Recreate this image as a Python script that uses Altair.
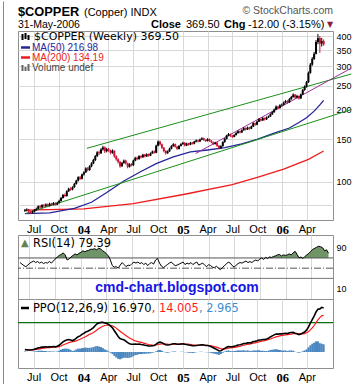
import altair as alt
import pandas as pd

# ---------------- data ----------------
week_start = "2003-05-30"
first_open = 76.0
closes = [
    76.5, 76.8, 75.5, 74.8, 75.4, 76.6, 77.5, 79.4, 78.6, 80.2,
    79.5, 80.8, 79.8, 81.3, 80.6, 81.9, 80.7, 82.1, 83.6, 85.9,
    88.4, 87.5, 91.6, 93.8, 93.0, 95.2, 98.2, 101.3, 104.6, 103.1,
    107.4, 109.6, 113.8, 112.0, 116.1, 119.3, 123.2, 127.9, 132.6, 131.5,
    136.2, 138.9, 134.0, 136.5, 135.0, 132.0, 134.5, 127.6, 124.1, 121.0,
    116.2, 119.8, 122.5, 119.4, 115.6, 118.3, 117.2, 122.6, 125.9, 124.3,
    127.8, 126.4, 129.6, 127.5, 130.2, 128.4, 131.3, 133.6, 132.0, 141.2,
    146.8, 143.0, 138.5, 134.2, 131.5, 133.8, 137.2, 140.6, 143.1, 139.8,
    137.0, 140.9, 143.3, 145.1, 141.5, 144.0, 142.6, 145.2, 143.9, 146.7,
    148.4, 147.0, 149.6, 151.5, 149.1, 147.6, 150.2, 147.9, 145.8, 143.5,
    145.2, 141.0, 137.8, 140.6, 146.0, 150.5, 155.2, 157.6, 154.8, 153.6,
    156.3, 159.2, 161.8, 160.1, 163.5, 166.9, 164.7, 167.8, 166.0, 169.4,
    174.8, 172.3, 177.5, 181.6, 179.4, 183.5, 181.2, 184.7, 186.3, 190.1,
    194.0, 198.9, 204.6, 201.8, 207.1, 208.3, 212.4, 215.5, 213.2, 219.6,
    224.1, 229.3, 223.0, 226.4, 221.2, 229.8, 239.5, 247.2, 258.0, 282.0,
    305.0, 322.0, 338.0, 378.0, 392.0, 372.6, 381.5, 369.5]
highs = [
    77.4, 77.9, 77.5, 76.3, 76.2, 77.3, 78.4, 80.1, 80.3, 81.0,
    81.1, 81.6, 81.5, 82.2, 82.0, 82.7, 82.5, 82.9, 84.5, 86.8,
    89.3, 89.6, 92.4, 94.7, 95.1, 96.0, 99.1, 102.2, 105.6, 105.9,
    108.3, 110.8, 115.0, 115.2, 117.3, 120.6, 124.7, 129.2, 134.0, 134.8,
    137.9, 141.0, 140.2, 138.4, 138.1, 136.0, 136.4, 135.2, 128.9, 125.3,
    122.0, 121.0, 123.8, 123.6, 120.2, 119.5, 119.6, 123.7, 127.0, 127.2,
    128.9, 129.0, 130.7, 130.5, 131.3, 131.0, 132.4, 134.8, 134.9, 142.5,
    148.3, 148.0, 144.1, 139.4, 135.3, 135.0, 138.5, 141.9, 144.6, 144.0,
    140.9, 142.0, 144.5, 146.5, 146.0, 145.2, 145.0, 146.3, 146.4, 147.9,
    149.8, 149.6, 150.9, 153.0, 152.4, 150.0, 151.5, 151.0, 148.8, 146.7,
    146.5, 146.0, 142.0, 141.8, 147.3, 151.8, 156.6, 159.2, 158.5, 156.1,
    157.6, 160.6, 163.3, 163.0, 164.9, 168.4, 167.8, 169.2, 168.9, 170.9,
    176.3, 175.9, 179.0, 183.3, 183.0, 185.2, 184.6, 186.4, 188.1, 192.0,
    196.1, 200.9, 207.0, 206.2, 209.3, 210.6, 214.8, 218.0, 217.4, 221.8,
    226.5, 232.0, 230.8, 229.0, 227.5, 231.6, 241.8, 250.3, 261.2, 285.6,
    309.4, 327.5, 344.0, 385.0, 408.0, 400.0, 393.0, 387.0]
lows = [
    75.3, 75.6, 74.6, 73.9, 74.1, 74.9, 76.0, 77.0, 77.8, 78.1,
    78.7, 78.9, 79.0, 79.3, 79.8, 80.0, 79.9, 80.2, 81.6, 83.1,
    85.4, 86.5, 87.0, 90.9, 92.0, 92.4, 94.6, 97.6, 100.5, 102.0,
    102.5, 106.2, 108.9, 110.6, 111.2, 115.0, 118.4, 122.0, 126.8, 129.3,
    130.4, 134.8, 131.6, 132.5, 133.2, 130.1, 130.8, 126.0, 122.4, 119.2,
    114.5, 115.4, 118.9, 118.0, 113.9, 114.7, 116.0, 116.6, 121.8, 123.0,
    123.6, 125.1, 125.8, 126.4, 126.9, 127.2, 127.8, 130.6, 130.9, 131.4,
    140.2, 141.6, 136.9, 132.6, 129.8, 130.6, 133.1, 136.4, 139.8, 138.5,
    135.6, 136.2, 140.1, 142.4, 140.2, 140.6, 141.3, 141.8, 142.7, 143.0,
    145.8, 145.7, 146.2, 148.7, 147.8, 146.2, 146.8, 146.5, 144.4, 142.1,
    142.6, 139.6, 136.2, 136.9, 139.9, 145.3, 149.7, 154.3, 153.2, 152.0,
    152.8, 155.4, 158.3, 158.6, 159.3, 162.6, 163.1, 163.9, 164.3, 165.2,
    168.6, 170.6, 171.4, 176.6, 177.5, 178.6, 179.3, 180.2, 183.6, 185.4,
    189.2, 193.0, 197.8, 199.5, 200.6, 205.4, 207.1, 211.0, 210.6, 212.1,
    218.2, 222.8, 220.4, 221.5, 218.6, 220.0, 228.6, 237.8, 245.1, 256.3,
    279.5, 301.2, 318.6, 336.0, 370.0, 341.0, 362.0, 365.0]
rsi14 = [
    61, 58, 55, 53, 56, 60, 62, 64, 61, 63,
    60, 62, 59, 61, 60, 63, 60, 64, 68, 72,
    75, 77, 80, 76, 66, 68, 72, 75, 78, 76,
    79, 81, 84, 82, 84, 85, 87, 87, 88, 86,
    89, 88, 84, 82, 78, 74, 66, 55, 52, 53,
    50, 56, 61, 57, 53, 56, 55, 59, 62, 60,
    62, 59, 61, 57, 60, 55, 59, 61, 58, 66,
    69, 60, 54, 51, 54, 57, 60, 62, 58, 55,
    56, 58, 60, 62, 57, 60, 58, 61, 57, 60,
    62, 56, 58, 60, 56, 53, 57, 55, 52, 51,
    54, 50, 47, 51, 55, 58, 62, 60, 55, 52,
    56, 59, 61, 60, 62, 64, 61, 63, 61, 64,
    66, 64, 68, 70, 67, 71, 69, 72, 71, 73,
    74, 76, 77, 74, 76, 75, 76, 78, 76, 80,
    83, 77, 70, 72, 69, 73, 76, 79, 83, 87,
    89, 91, 93, 92, 90, 84, 86, 79.39]
ppo_line = [
    1.0, 0.9, 0.8, 0.8, 0.9, 1.1, 1.3, 1.6, 1.7, 1.9,
    1.9, 2.0, 1.9, 2.0, 2.0, 2.1, 2.0, 2.2, 2.6, 3.2,
    3.9, 4.3, 4.6, 4.8, 4.6, 4.4, 4.7, 5.3, 5.9, 6.2,
    6.8, 7.2, 7.7, 8.0, 8.4, 8.8, 9.4, 10.2, 10.9, 11.2,
    11.4, 11.4, 11.2, 11.0, 10.6, 10.0, 9.3, 8.2, 7.1, 6.0,
    5.2, 4.9, 4.7, 4.2, 3.6, 3.2, 3.0, 3.0, 3.1, 3.0,
    3.1, 2.9, 2.8, 2.6, 2.5, 2.3, 2.3, 2.4, 2.5, 3.0,
    3.6, 3.8, 3.6, 3.2, 2.8, 2.7, 2.8, 3.0, 3.2, 3.2,
    3.0, 3.0, 3.1, 3.2, 3.0, 2.9, 2.7, 2.6, 2.4, 2.4,
    2.5, 2.6, 2.7, 2.8, 2.7, 2.5, 2.5, 2.3, 2.0, 1.6,
    1.3, 0.9, 0.4, 0.5, 0.9, 1.4, 1.8, 2.1, 2.0, 2.0,
    2.2, 2.4, 2.7, 2.8, 3.0, 3.3, 3.3, 3.5, 3.5, 3.6,
    4.0, 4.1, 4.3, 4.6, 4.6, 4.8, 4.8, 5.0, 5.3, 5.8,
    6.2, 6.6, 6.9, 6.9, 7.0, 7.0, 7.1, 7.2, 7.1, 7.4,
    7.5, 7.6, 7.2, 7.0, 6.7, 6.9, 7.3, 7.7, 8.4, 9.6,
    11.1, 12.5, 13.8, 15.4, 16.5, 16.6, 17.2, 16.97]
ppo_signal = [
    0.8, 0.8, 0.8, 0.8, 0.8, 0.9, 1.0, 1.1, 1.2, 1.4,
    1.5, 1.6, 1.7, 1.7, 1.8, 1.9, 1.9, 2.0, 2.1, 2.3,
    2.7, 3.0, 3.3, 3.6, 3.8, 4.0, 4.1, 4.3, 4.6, 4.9,
    5.3, 5.6, 6.0, 6.4, 6.8, 7.1, 7.5, 8.0, 8.6, 9.1,
    9.5, 9.9, 10.2, 10.3, 10.4, 10.3, 10.1, 9.7, 9.2, 8.6,
    8.0, 7.4, 6.9, 6.4, 5.9, 5.4, 5.0, 4.6, 4.3, 4.1,
    3.9, 3.7, 3.5, 3.3, 3.1, 2.9, 2.8, 2.7, 2.6, 2.7,
    2.9, 3.0, 3.1, 3.1, 3.0, 3.0, 2.9, 2.9, 3.0, 3.0,
    3.0, 3.0, 3.0, 3.1, 3.1, 3.0, 3.0, 2.9, 2.8, 2.7,
    2.6, 2.6, 2.6, 2.7, 2.7, 2.6, 2.6, 2.5, 2.4, 2.2,
    2.0, 1.8, 1.5, 1.3, 1.2, 1.2, 1.3, 1.5, 1.6, 1.7,
    1.8, 1.9, 2.1, 2.2, 2.4, 2.6, 2.8, 2.9, 3.0, 3.2,
    3.4, 3.5, 3.7, 3.9, 4.1, 4.3, 4.4, 4.6, 4.8, 5.0,
    5.3, 5.6, 5.8, 6.0, 6.2, 6.4, 6.5, 6.6, 6.7, 6.8,
    6.9, 7.1, 7.1, 7.1, 7.0, 7.0, 7.0, 7.1, 7.4, 7.8,
    8.5, 9.3, 10.2, 11.3, 12.4, 13.2, 14.0, 14.005]

ma50_dates = ["2003-05-30", "2003-08-29", "2003-11-28", "2004-01-30", "2004-03-26",
              "2004-05-28", "2004-07-30", "2004-09-24", "2004-11-26", "2005-01-28",
              "2005-04-01", "2005-06-03", "2005-08-05", "2005-09-30", "2005-12-02",
              "2006-01-27", "2006-03-03", "2006-03-31", "2006-04-28", "2006-05-19", "2006-06-02"]
ma50_values = [74.0, 74.6, 77.8, 82.5, 90.5, 101.0, 110.5, 119.0, 127.0, 133.0,
               135.5, 138.5, 143.5, 150.0, 159.0, 167.0, 176.0, 184.0, 196.0, 208.0, 216.98]
ma200_dates = ["2003-05-30", "2004-01-02", "2004-07-02", "2005-01-07", "2005-07-01",
               "2005-10-07", "2006-01-06", "2006-04-07", "2006-06-02"]
ma200_values = [76.5, 77.5, 81.5, 89.0, 97.5, 105.0, 113.0, 124.0, 134.19]

upper_trend_dates = ["2004-01-13", "2006-09-12"]
upper_trend_values = [137.7, 279.0]
lower_trend_dates = ["2003-06-02", "2006-09-12"]
lower_trend_values = [74.1, 199.0]
purple_trend_dates = ["2005-02-16", "2006-09-12"]
purple_trend_values = [131.0, 295.0]
ppo_level = [11.3]

x_tick_dates = ["2003-07-01", "2003-10-01", "2004-01-01", "2004-04-01", "2004-07-01",
                "2004-10-01", "2005-01-01", "2005-04-01", "2005-07-01", "2005-10-01",
                "2006-01-01", "2006-04-01"]
x_domain = ["2003-05-23", "2006-06-18"]
price_ticks = [80, 100, 150, 200, 250, 300, 350, 400]
price_domain = [69.7, 419.6]
rsi_ticks = [10, 30, 50, 70, 90]
rsi_domain = [-10.4, 115]
ppo_ticks = [0, 5, 10, 15]
ppo_domain = [-6.15, 20.4]

# ---------------- tables ----------------
dates = pd.date_range(week_start, periods=len(closes), freq="7D").strftime("%Y-%m-%d").tolist()
opens = [first_open] + closes[:-1]
weekly = pd.DataFrame({
    "date": dates, "open": opens, "high": highs, "low": lows, "close": closes,
    "dir": ["up" if c >= o else "down" for o, c in zip(opens, closes)],
    "rsi": rsi14, "ppo": ppo_line, "sig": ppo_signal,
})
weekly["hist"] = weekly["ppo"] - weekly["sig"]

def line_df(d, v):
    return pd.DataFrame({"date": d, "value": v})

one = pd.DataFrame({"k": [0]})

# ---------------- styling ----------------
GRID = "#d9d9d9"
BORDER = "#8f8f8f"
RED_C = "#cc1236"
SANS = "Liberation Sans"

def dt(s):
    y, m, d = (int(p) for p in s.split("-"))
    return alt.DateTime(year=y, month=m, date=d, utc=True)

x_scale = alt.Scale(type="utc", domain=[dt(x_domain[0]), dt(x_domain[1])])
is_year = "utcmonth(datum.value) == 0"

def x_enc(show):
    return alt.X("date:T", scale=x_scale, title=None, axis=alt.Axis(
        values=[dt(s) for s in x_tick_dates], grid=True, gridColor=GRID,
        domain=False, ticks=False, labels=show, labelOverlap=False, labelFlush=False,
        labelBound=False, labelPadding=3, labelColor="#000",
        labelExpr=f"{is_year} ? utcFormat(datum.value, '%y') : utcFormat(datum.value, '%b')",
        labelFont={"condition": {"test": is_year, "value": "Liberation Serif"}, "value": SANS},
        labelFontSize={"condition": {"test": is_year, "value": 12.5}, "value": 11},
        labelFontWeight={"condition": {"test": is_year, "value": "bold"}, "value": "normal"},
    ))

def y_axis(vals, grid, expr=None):
    kw = dict(orient="right", values=vals, grid=grid, gridColor=GRID, domain=False, ticks=False,
              labelPadding=3, labelFont=SANS, labelFontSize=9, labelColor="#000", format="d")
    if expr:
        kw["labelExpr"] = expr
    return alt.Axis(**kw)

def y_price(field):
    return alt.Y(field, type="quantitative", title=None,
                 scale=alt.Scale(type="log", domain=price_domain, nice=False, zero=False),
                 axis=y_axis(price_ticks, True, "datum.value == 80 ? '' : datum.label"))

def y_rsi(field):
    return alt.Y(field, type="quantitative", title=None,
                 scale=alt.Scale(domain=rsi_domain, nice=False, zero=False),
                 axis=y_axis(rsi_ticks, False))

def y_ppo(field):
    return alt.Y(field, type="quantitative", title=None,
                 scale=alt.Scale(domain=ppo_domain, nice=False, zero=False),
                 axis=y_axis(ppo_ticks, True))

def txt(s, x, y, size=11, color="#000", weight="normal", font=SANS, align="left"):
    return alt.Chart(one).mark_text(text=s, fontSize=size, color=color, fontWeight=weight,
                                    font=font, align=align, baseline="alphabetic").encode(
        x=alt.value(x), y=alt.value(y))

def seg(x1, x2, y, color, w=2.5):
    return alt.Chart(one).mark_rule(color=color, strokeWidth=w).encode(
        x=alt.value(x1), x2=alt.value(x2), y=alt.value(y))

def vbar(x, y1, y2, color, w=2):
    return alt.Chart(one).mark_rule(color=color, strokeWidth=w).encode(
        x=alt.value(x), y=alt.value(y1), y2=alt.value(y2))

dir_color = alt.Color("dir:N", scale=alt.Scale(domain=["up", "down"], range=["#000000", RED_C]), legend=None)

# ---------------- price panel ----------------
ma200 = alt.Chart(line_df(ma200_dates, ma200_values)).mark_line(color="#ee1c1c", strokeWidth=1.3).encode(
    x=x_enc(True), y=y_price("value"))
ma50 = alt.Chart(line_df(ma50_dates, ma50_values)).mark_line(color="#25259a", strokeWidth=1.3).encode(
    x=x_enc(True), y=y_price("value"))
up_tr = alt.Chart(line_df(upper_trend_dates, upper_trend_values)).mark_line(
    color="#1a8f1a", strokeWidth=1, clip=False).encode(x=x_enc(True), y=y_price("value"))
lo_tr = alt.Chart(line_df(lower_trend_dates, lower_trend_values)).mark_line(
    color="#1a8f1a", strokeWidth=1, clip=False).encode(x=x_enc(True), y=y_price("value"))
pu_tr = alt.Chart(line_df(purple_trend_dates, purple_trend_values)).mark_line(
    color="#9a2f9a", strokeWidth=1, clip=False).encode(x=x_enc(True), y=y_price("value"))
wick = alt.Chart(weekly).mark_rule(strokeWidth=1).encode(
    x=x_enc(True), y=y_price("low"), y2="high:Q", color=dir_color)
body = alt.Chart(weekly).mark_bar(size=2).encode(
    x=x_enc(True), y=y_price("open"), y2="close:Q", color=dir_color)

price_texts = [
    txt("$COPPER", 0, -15, size=12.8, weight="bold"),
    txt("(Copper) INDX", 66, -15.5, size=11),
    txt("\u00a9 StockCharts.com", 315, -17, size=10.5, color="#555", align="right"),
    txt("31-May-2006", 0, -3, size=10.5),
    txt("Close", 133, -3, weight="bold"),
    txt("369.50", 168, -3),
    txt("Chg", 206, -3, weight="bold"),
    txt("-12.00 (-3.15%)", 230, -3),
    txt("\u25bc", 309, -4, size=8, color="#8b1c3c", font="DejaVu Sans"),
    vbar(4.5, 3, 9, "#000"), vbar(7.5, 2, 8, "#000"), vbar(10.5, 4, 9, "#000"),
    txt("$COPPER (Weekly) 369.50", 16, 9, size=11, font="DejaVu Sans"),
    seg(3, 12, 16.5, "#25259a"),
    txt("MA(50) 216.98", 14, 20, size=10, color="#25259a"),
    seg(3, 12, 26.5, "#ee1c1c"),
    txt("MA(200) 134.19", 14, 30, size=10, color="#ee1c1c"),
    vbar(4.5, 34, 40, "#666"), vbar(7.5, 36, 40, "#666"), vbar(10.5, 33, 40, "#666"),
    txt("Volume undef", 14, 40, size=10, color="#444"),
]
frame = alt.Chart(one).mark_rule(color="#8a8a8a", strokeWidth=1).encode(
    x=alt.value(-14.5), y=alt.value(-29.5), y2=alt.value(354))

price = alt.layer(ma200, ma50, up_tr, lo_tr, pu_tr, wick, body, *price_texts, frame).properties(
    width=315, height=189)

# ---------------- RSI panel ----------------
rsi_fill = alt.Chart(weekly).transform_calculate(top="max(datum.rsi, 70)", base="70").mark_area(
    color="#6f9468").encode(x=x_enc(False), y=y_rsi("top"), y2="base:Q")
r70 = alt.Chart(one).mark_rule(color="#555", strokeWidth=1).encode(y=alt.datum(70))
r50 = alt.Chart(one).mark_rule(color="#555", strokeWidth=1, strokeDash=[7, 2, 1, 2]).encode(y=alt.datum(50))
r30 = alt.Chart(one).mark_rule(color="#777", strokeWidth=1).encode(y=alt.datum(30))
rsi_ln = alt.Chart(weekly).mark_line(color="#000", strokeWidth=1).encode(x=x_enc(False), y=y_rsi("rsi"))
rsi_texts = [
    txt("\u25b2", 3, 11, size=10, color="#5f8458", font="DejaVu Sans"),
    txt("RSI(14) 79.39", 15, 11.5, size=11.4, font="DejaVu Sans"),
    txt("cmd-chart.blogspot.com", 159, 57, size=14, weight="bold", color="#1616e6", align="center"),
]
rsi = alt.layer(rsi_fill, r70, r50, r30, rsi_ln, *rsi_texts).properties(width=315, height=64)

# ---------------- PPO panel ----------------
hist = alt.Chart(weekly).mark_bar(size=2, color="#4a86bf").encode(x=x_enc(True), y=y_ppo("hist"))
lvl = alt.Chart(pd.DataFrame({"v": ppo_level})).mark_rule(color="#0a6e0a", strokeWidth=1.2).encode(
    y=alt.Y("v:Q", scale=alt.Scale(domain=ppo_domain, nice=False, zero=False), axis=None))
sig = alt.Chart(weekly).mark_line(color="#ff1a1a", strokeWidth=1.2).encode(x=x_enc(True), y=y_ppo("sig"))
ppo_l = alt.Chart(weekly).mark_line(color="#000", strokeWidth=1.6).encode(x=x_enc(True), y=y_ppo("ppo"))
ppo_texts = [
    seg(3, 11, 9, "#000"),
    txt("PPO(12,26,9) 16.970", 15, 12.5, size=11.4, font="DejaVu Sans"),
    txt(", 14.005", 133.7, 12.5, size=11.4, font="DejaVu Sans", color="#ff1a1a"),
    txt(", 2.965", 180.9, 12.5, size=11.4, font="DejaVu Sans", color="#3d8fd0"),
]
ppo = alt.layer(hist, lvl, sig, ppo_l, *ppo_texts).properties(width=315, height=69)

lower = alt.vconcat(rsi, ppo, spacing=0, bounds="flush").resolve_scale(y="independent", x="independent")
chart = alt.vconcat(price, lower, spacing=15, bounds="flush").resolve_scale(
    y="independent", x="independent").properties(
    padding={"left": 2, "top": 0, "right": 0, "bottom": 0}).configure_view(
    stroke=BORDER, strokeWidth=1)

chart.save("out.html", embed_options={"renderer": "svg", "actions": False})
